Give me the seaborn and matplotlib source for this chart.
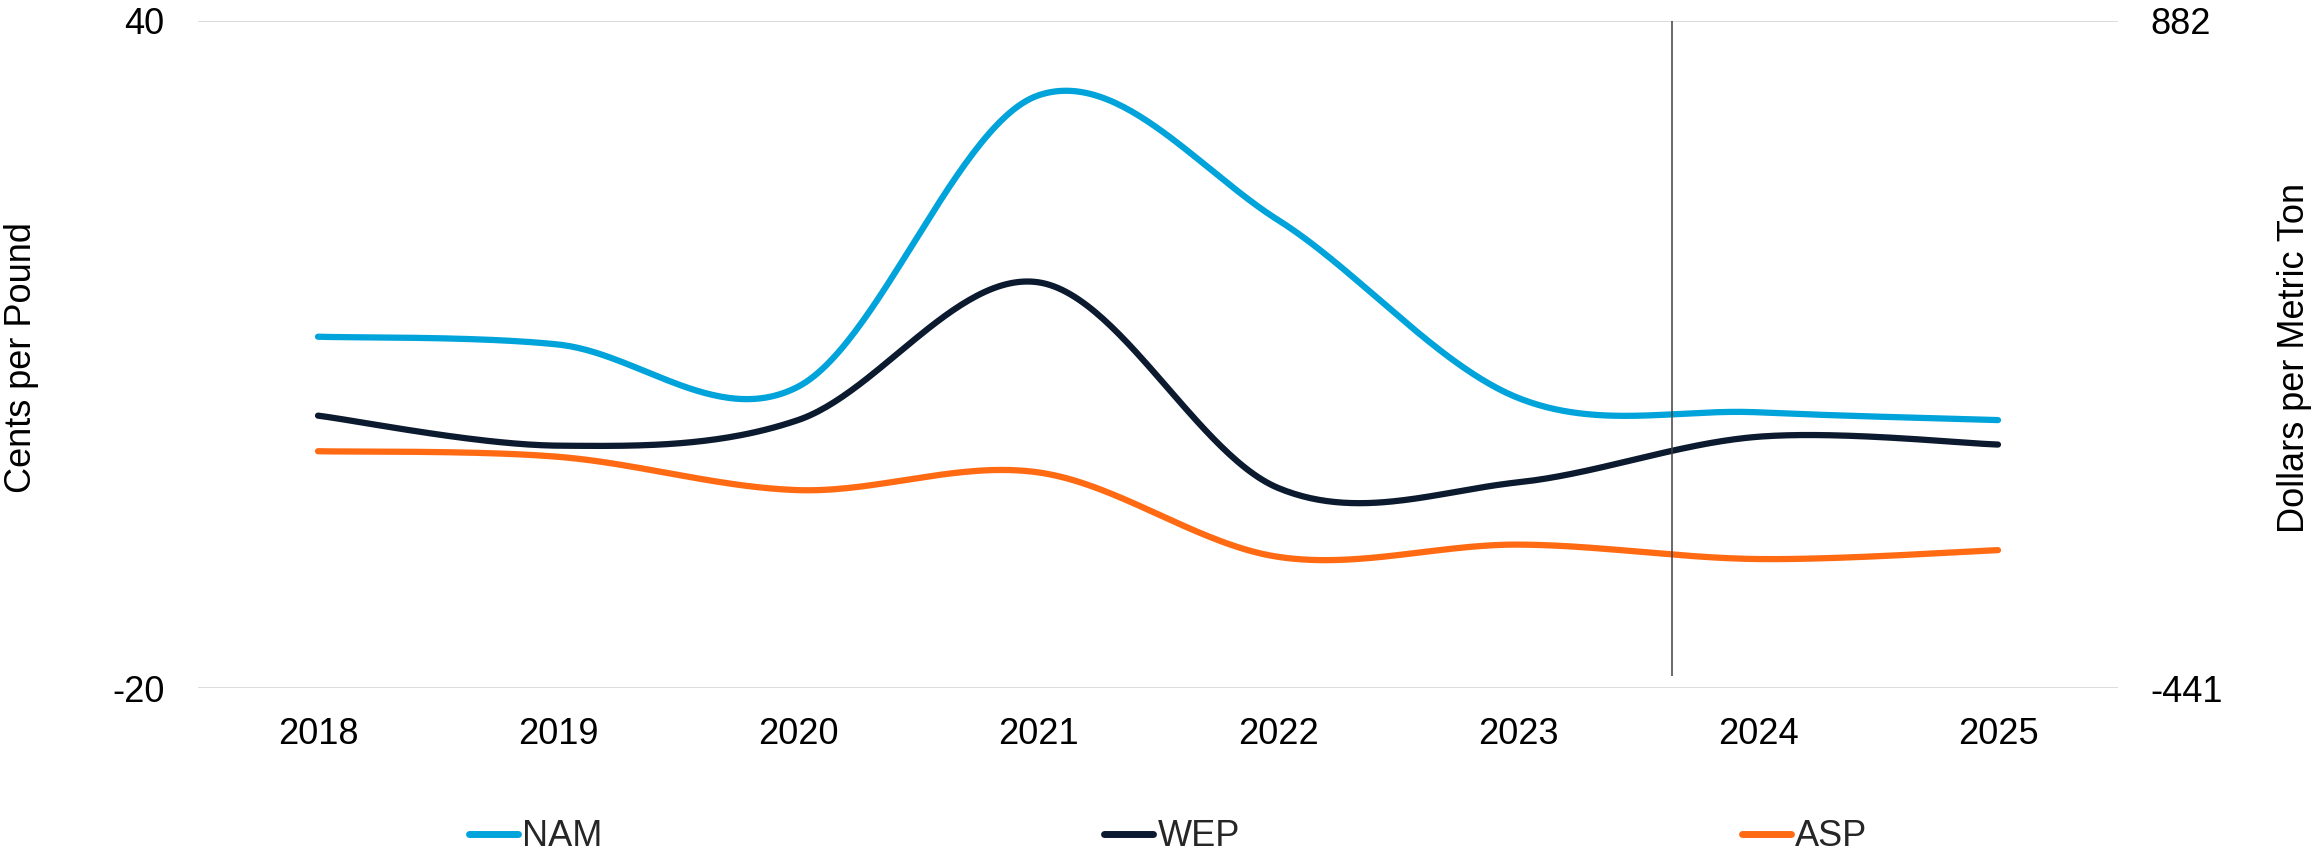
import numpy as np
import pandas as pd
import matplotlib
matplotlib.use("Agg")
import matplotlib.pyplot as plt
from matplotlib.lines import Line2D
import seaborn as sns

# Annual prices, cents per pound
years = ["2018", "2019", "2020", "2021", "2022", "2023", "2024", "2025"]
nam = [11.6, 10.9, 7.1, 33.3, 22.1, 6.1, 4.8, 4.1]
wep = [4.5, 1.8, 4.1, 16.5, -2.0, -1.5, 2.6, 1.9]
asp = [1.3, 0.8, -2.2, -0.6, -8.2, -7.1, -8.4, -7.6]

series_names = ["NAM", "WEP", "ASP"]
series_colors = ["#00A3DA", "#0B1A2E", "#FF6A13"]

# Position of the forecast divider (in category units, 0 = 2018)
divider_pos = 5.64

CENTS_LB_TO_USD_T = 22.0462  # cents/lb -> $/metric ton
y_min, y_max = -20, 40


def smooth_path(y, n=60):
    """Bezier smoothing (Catmull-Rom style) through equally spaced points."""
    y = np.asarray(y, dtype=float)
    x = np.arange(len(y), dtype=float)
    pts = np.column_stack([x, y])
    ext = np.vstack([pts[0], pts, pts[-1]])
    xs, ys = [], []
    t = np.linspace(0, 1, n)[:, None]
    for i in range(len(pts) - 1):
        p0, p1, pm, pp = ext[i + 1], ext[i + 2], ext[i], ext[i + 3]
        c1 = p0 + (p1 - pm) / 6.0
        c2 = p1 - (pp - p0) / 6.0
        seg = ((1 - t) ** 3) * p0 + 3 * ((1 - t) ** 2) * t * c1 \
            + 3 * (1 - t) * t ** 2 * c2 + t ** 3 * p1
        xs.append(seg[:, 0])
        ys.append(seg[:, 1])
    return np.concatenate(xs), np.concatenate(ys)


frames = []
for name, vals in zip(series_names, [nam, wep, asp]):
    sx, sy = smooth_path(vals)
    frames.append(pd.DataFrame({"pos": sx, "value": sy, "series": name}))
curves = pd.concat(frames, ignore_index=True)

sns.set_theme(style="white")
plt.rcParams["font.family"] = ["Liberation Sans", "DejaVu Sans"]
FS = 26

W, H = 2313, 856
fig = plt.figure(figsize=(W / 100, H / 100), dpi=100)
ax = fig.add_axes([198 / W, 1 - 688 / H, 1920 / W, 667 / H])

for name, color in zip(series_names, series_colors):
    sub = curves[curves["series"] == name]
    sns.lineplot(data=sub, x="pos", y="value", ax=ax, color=color,
                 linewidth=4.5, sort=False, estimator=None,
                 solid_capstyle="round", legend=False, zorder=3)

ax.set_xlim(-0.5, len(years) - 0.5)
ax.set_ylim(y_min, y_max)
ax.set_xticks(range(len(years)))
ax.set_xticklabels(years)
ax.set_yticks([y_min, y_max])
ax.set_yticklabels([str(y_min), str(y_max)])
ax.set_xlabel("")
ax.set_ylabel("")
ax.tick_params(axis="x", length=0, pad=21, labelsize=FS, colors="black")
ax.tick_params(axis="y", length=0, pad=24, labelsize=FS, colors="black")
for s in ax.spines.values():
    s.set_visible(False)
for yv in (y_min, y_max):
    ax.axhline(yv, color="#D9D9D9", linewidth=1.3, zorder=1)

ax.vlines(divider_pos, -18.9, y_max, color="#404040", linewidth=1.1, zorder=5)

ax2 = ax.twinx()
r_min, r_max = y_min * CENTS_LB_TO_USD_T, y_max * CENTS_LB_TO_USD_T
ax2.set_ylim(r_min, r_max)
ax2.set_yticks([r_min, r_max])
ax2.set_yticklabels([f"{r_min:.0f}", f"{r_max:.0f}"])
ax2.tick_params(axis="y", length=0, pad=23, labelsize=FS, colors="black")
for s in ax2.spines.values():
    s.set_visible(False)
ax2.grid(False)

fig.text(22 / W, 1 - 358 / H, "Cents per Pound", rotation=90,
         ha="center", va="center", fontsize=FS, color="black")
fig.text(2294 / W, 1 - 358 / H, "Dollars per Metric Ton", rotation=90,
         ha="center", va="center", fontsize=FS, color="black")

handles = [Line2D([0], [0], color=c, linewidth=5, solid_capstyle="round")
           for c in series_colors]
fig.legend(handles, series_names, loc="center left",
           bbox_to_anchor=(469 / W, 1 - 837 / H), ncol=3, frameon=False,
           borderpad=0, borderaxespad=0, handlelength=1.35,
           handletextpad=0.12, columnspacing=13.9, fontsize=FS)

fig.savefig("out.png", dpi=100, facecolor="white")
